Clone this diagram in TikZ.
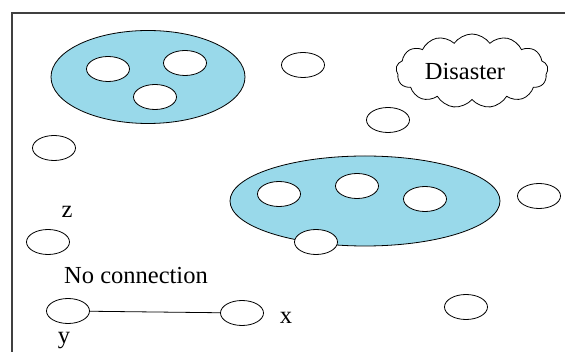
\documentclass[tikz,border=0pt]{standalone}
\usepackage{fontspec}
\setmainfont{Liberation Serif}
\usetikzlibrary{shapes.geometric,shapes.symbols}
\definecolor{turq}{RGB}{153,217,234}

\begin{document}
\begin{tikzpicture}[x=1pt,y=-1pt]

\tikzstyle sensor=[ellipse, draw, line width=0.8pt, fill=white, minimum width=43pt, minimum height=25pt, inner sep=0pt]
\tikzstyle cluster=[ellipse, draw, line width=0.8pt, fill=turq, inner sep=0pt]
\tikzstyle label=[font=\fontsize{24.5}{28}\selectfont, inner sep=0pt]

\useasboundingbox (0,0) rectangle (565,352);
\draw [black!75, line width=1.2pt] (12,360) -- (12,13) -- (570,13);

% clusters
\node (c1) [cluster, minimum width=194pt, minimum height=93pt] at (148,77) {};
\node (c2) [cluster, minimum width=270pt, minimum height=90pt] at (365,201) {};

\node (s1) [sensor] at (108,69) {};
\node (s2) [sensor] at (185,63) {};
\node (s3) [sensor] at (155,97) {};

\node (s4) [sensor] at (279,194) {};
\node (s5) [sensor] at (357,186) {};
\node (s6) [sensor] at (425,199) {};

% free nodes
\node (n1) [sensor] at (303,65)  {};
\node (n2) [sensor] at (388,120) {};
\node (n3) [sensor] at (54,148)  {};
\node (n4) [sensor] at (316,242) {};
\node (n5) [sensor] at (539,196) {};
\node (n6) [sensor] at (48,242)  {};
\node (n7) [sensor] at (466,307) {};

\node (ny) [sensor] at (68,311)  {};
\node (nx) [sensor] at (242,313) {};

\node (d) [cloud, draw, line width=0.8pt, cloud puffs=13, cloud puff arc=110, aspect=2.2, minimum width=152pt, minimum height=74pt, inner sep=0pt] at (472,71) {};
\node (ld) [label] at (465,72) {Disaster};

\node (lz) [label] at (67,212) {z};
\node (lc) [label] at (136,276) {No connection};
\node (lx) [label] at (286,318) {x};
\node (ly) [label] at (64,341) {y};

\draw [line width=0.8pt] (ny) -- (nx);

\end{tikzpicture}
\end{document}
